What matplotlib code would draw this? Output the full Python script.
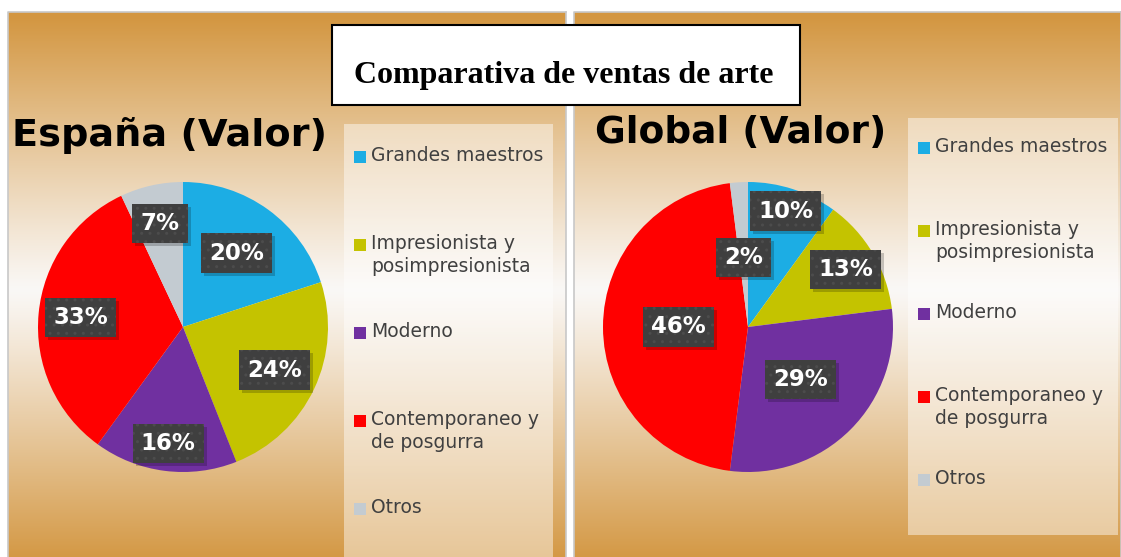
import numpy as np
import matplotlib
matplotlib.use("Agg")
from matplotlib import pyplot as plt
from matplotlib import patches
from matplotlib import transforms

# datos
categorias = ['Grandes maestros', 'Impresionista y\nposimpresionista', 'Moderno',
              'Contemporaneo y\nde posgurra', 'Otros']
espana = [20, 24, 16, 33, 7]
global_ = [10, 13, 29, 46, 2]
titulo = 'Comparativa de ventas de arte'
titulo_esp = 'España (Valor)'
titulo_glo = 'Global (Valor)'

colores = ['#1CADE4', '#C4C300', '#7030A0', '#FF0000', '#C3CBD1']
# distancia de las etiquetas (ajuste "best fit")
dist_esp = [0.63, 0.70, 0.81, 0.71, 0.73]
dist_glo = [0.84, 0.78, 0.51, 0.48, 0.48]

W, H = 1121, 557
fig = plt.figure(figsize=(W / 100, H / 100), dpi=100)
fig.patch.set_facecolor('white')

# fondo en coordenadas de pixel
bg = fig.add_axes([0, 0, 1, 1])
bg.set_xlim(0, W)
bg.set_ylim(H, 0)
bg.axis('off')

naranja = np.array([211, 150, 64]) / 255
blanco = np.array([250, 248, 246]) / 255
yy = np.linspace(12, H, 300)
t = np.abs(yy - 290) / 275
t = np.clip(t, 0, 1) ** 1.1
grad = blanco[None, :] + (naranja - blanco)[None, :] * t[:, None]
grad = np.repeat(grad[:, None, :], 2, axis=1)

for x0, x1 in [(8, 566), (574, W)]:
    bg.imshow(grad, extent=(x0, x1, H, 12), aspect='auto', zorder=0)
    bg.plot([x0, x0, x1], [H, 12, 12], color='#C8C8C8', lw=1.2, zorder=1)
    bg.plot([x1, x1], [12, H], color='#C8C8C8', lw=1.2, zorder=1)

# cajas de leyenda
bg.add_patch(patches.Rectangle((344, 124), 209, 433, facecolor='white', alpha=0.45,
                               edgecolor='none', zorder=2))
bg.add_patch(patches.Rectangle((908, 118), 210, 417, facecolor='white', alpha=0.45,
                               edgecolor='none', zorder=2))

fuente = 'DejaVu Sans'


def leyenda(x, y0, paso):
    for i, (c, col) in enumerate(zip(categorias, colores)):
        y = y0 + i * paso
        bg.add_patch(patches.Rectangle((x, y - 6), 12, 12, facecolor=col,
                                       edgecolor='none', zorder=3))
        bg.text(x + 17, y - 11, c, fontsize=13.5, color='#404040', family=fuente,
                va='top', ha='left', linespacing=1.3, zorder=3)


leyenda(354, 157, 88)
leyenda(918, 148, 83)

# titulos
bg.text(169, 136, titulo_esp, fontsize=27.5, fontweight='bold', family='DejaVu Sans',
        ha='center', va='center', color='black', zorder=3)
bg.text(741, 133, titulo_glo, fontsize=27, fontweight='bold', family='DejaVu Sans',
        ha='center', va='center', color='black', zorder=3)

bg.add_patch(patches.Rectangle((332, 25), 468, 80, facecolor='white', edgecolor='black',
                               lw=1.5, zorder=4))
bg.text(564, 76, titulo, fontsize=23, fontweight='bold', family='Liberation Serif',
        ha='center', va='center', zorder=5)

etiquetas = []


def tarta(cx, cy, r, valores, dists):
    ax = fig.add_axes([(cx - r) / W, (H - cy - r) / H, 2 * r / W, 2 * r / H])
    wedges, _ = ax.pie(valores, colors=colores, startangle=90, counterclock=False,
                       radius=1, wedgeprops=dict(linewidth=0))
    ax.set_xlim(-1, 1)
    ax.set_ylim(-1, 1)
    ax.axis('off')
    total = sum(valores)
    for w, v, d in zip(wedges, valores, dists):
        ang = np.deg2rad((w.theta1 + w.theta2) / 2)
        txt = ax.text(d * np.cos(ang), d * np.sin(ang), f'{round(v * 100 / total)}%',
                      fontsize=16.5, fontweight='bold', family=fuente,
                      color='white', ha='center', va='center', zorder=5,
                      bbox=dict(boxstyle='square,pad=0.36', facecolor='#3F3F3F',
                                edgecolor='#4C4C4C', hatch='..', lw=0))
        etiquetas.append((ax, txt))


tarta(183, 327, 145, espana, dist_esp)
tarta(748, 327, 145, global_, dist_glo)

# sombras de las etiquetas
fig.canvas.draw()
for ax, txt in etiquetas:
    bb = txt.get_bbox_patch().get_window_extent()
    ax.add_patch(patches.Rectangle((bb.x0 + 3, bb.y0 - 3), bb.width, bb.height,
                                   facecolor='black', alpha=0.2, lw=0, zorder=4,
                                   transform=transforms.IdentityTransform()))

fig.savefig('out.png', dpi=100)
